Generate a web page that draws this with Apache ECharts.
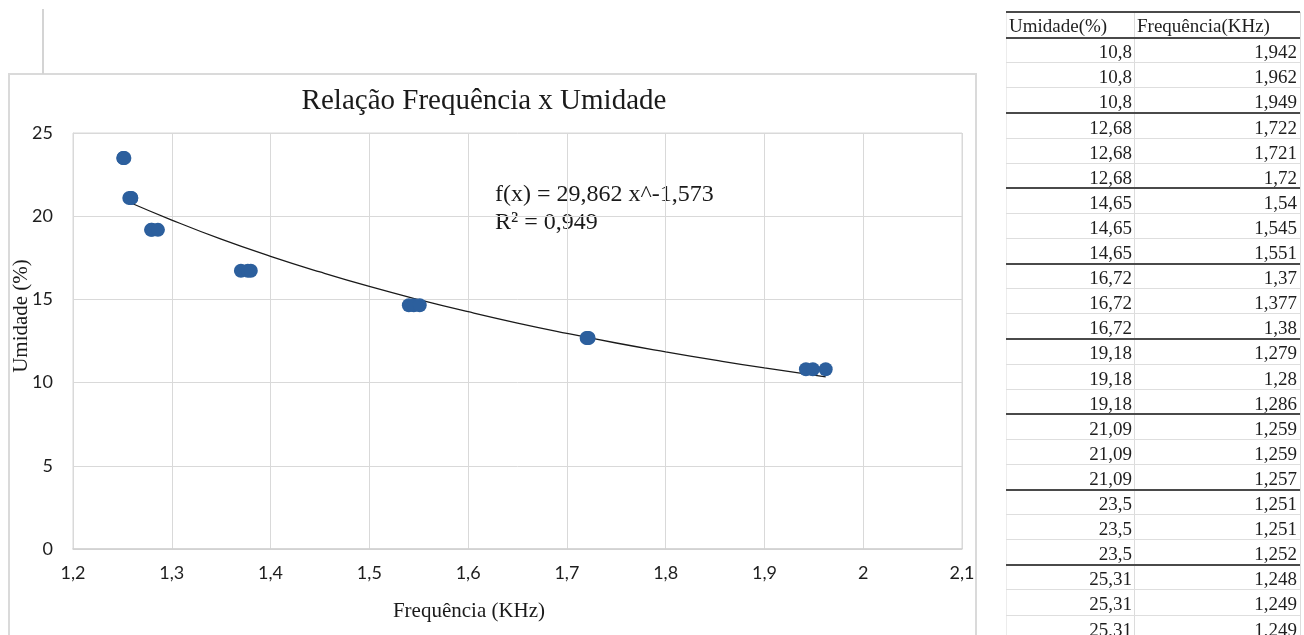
<!DOCTYPE html>
<html>
<head>
<meta charset="utf-8">
<script src="https://cdn.jsdelivr.net/npm/echarts@6/dist/echarts.min.js"></script>
<style>
  html, body { margin: 0; padding: 0; background: #ffffff; }
  #chart { position: absolute; left: 0; top: 0; width: 1304px; height: 635px; }
  #table { position: absolute; left: 0; top: 0; width: 1304px; height: 635px; pointer-events: none;
           font-family: "Liberation Serif", "Times New Roman", serif; font-size: 19px; color: #1e1e1e; }
  .hl { position: absolute; left: 1006px; width: 294px; }
  .cell { position: absolute; height: 25px; line-height: 25px; white-space: nowrap; }
</style>
</head>
<body>
<div id="chart"></div>
<div id="table"></div>
<script>
// ---- data ----
const tableHeaders = ['Umidade(%)', 'Frequência(KHz)'];
const umidade = [10.8, 10.8, 10.8, 12.68, 12.68, 12.68, 14.65, 14.65, 14.65, 16.72, 16.72, 16.72,
                 19.18, 19.18, 19.18, 21.09, 21.09, 21.09, 23.5, 23.5, 23.5, 25.31, 25.31, 25.31];
const frequencia = [1.942, 1.962, 1.949, 1.722, 1.721, 1.72, 1.54, 1.545, 1.551, 1.37, 1.377, 1.38,
                    1.279, 1.28, 1.286, 1.259, 1.259, 1.257, 1.251, 1.251, 1.252, 1.248, 1.249, 1.249];
const chartRowCount = 21; // rows used by the chart's series range
const trendX = [1.251, 1.3, 1.35, 1.4, 1.45, 1.5, 1.55, 1.6, 1.65, 1.7, 1.75, 1.8, 1.85, 1.9, 1.962];
const trendY = [20.99, 19.77, 18.62, 17.59, 16.65, 15.78, 14.99, 14.26, 13.58, 12.96, 12.38, 11.85, 11.35, 10.88, 10.34];
const titleText = 'Relação Frequência x Umidade';
const xAxisName = 'Frequência (KHz)';
const yAxisName = 'Umidade (%)';
const equationLines = ['f(x) = 29,862 x^-1,573', 'R² = 0,949'];

const fmt = v => String(v).replace('.', ',');

// ---- table ----
(function buildTable() {
  const t = document.getElementById('table');
  const headerTop = 12, headerBottom = 37.7, rowH = 25.1;
  const colX = 1134;
  let html = '';
  const line = (y, h, color) => { html += `<div class="hl" style="top:${y - h / 2}px;height:${h}px;background:${color}"></div>`; };
  const lastBottom = headerBottom + rowH * umidade.length;
  html += `<div style="position:absolute;left:${colX}px;top:${headerTop}px;width:1px;height:${lastBottom - headerTop}px;background:#dcdcdc"></div>`;
  html += `<div style="position:absolute;left:1300px;top:${headerTop}px;width:1px;height:${lastBottom - headerTop}px;background:#dcdcdc"></div>`;
  html += `<div style="position:absolute;left:1006px;top:${headerTop}px;width:1px;height:${lastBottom - headerTop}px;background:#ececec"></div>`;
  html += `<div class="cell" style="left:1009px;top:${headerTop + 1}px;">${tableHeaders[0]}</div>`;
  html += `<div class="cell" style="left:1137px;top:${headerTop + 1}px;">${tableHeaders[1]}</div>`;
  for (let i = 0; i < umidade.length; i++) {
    const top = headerBottom + rowH * i;
    html += `<div class="cell" style="left:1006px;width:126px;text-align:right;top:${top + 1.5}px;">${fmt(umidade[i])}</div>`;
    html += `<div class="cell" style="left:1134px;width:163px;text-align:right;top:${top + 1.5}px;">${fmt(frequencia[i])}</div>`;
  }
  for (let i = 1; i <= umidade.length; i++) {
    const y = headerBottom + rowH * i;
    if (i % 3 !== 0) line(y, 1, '#dedede');
  }
  line(headerTop, 2, '#4a4a4a');
  line(headerBottom, 2, '#4a4a4a');
  for (let i = 3; i <= umidade.length; i += 3) line(headerBottom + rowH * i, 2, '#4a4a4a');
  t.innerHTML = html;
})();

// ---- chart ----
const chart = echarts.init(document.getElementById('chart'));
const points = [];
for (let i = 0; i < chartRowCount; i++) points.push([frequencia[i], umidade[i]]);
const trend = trendX.map((x, i) => [x, trendY[i]]);
const serif = '"Liberation Serif", "Times New Roman", serif';

chart.setOption({
  animation: false,
  backgroundColor: '#ffffff',
  grid: { left: 73, top: 133, width: 889, height: 416, show: true, borderColor: '#d9d9d9', borderWidth: 1 },
  xAxis: {
    type: 'value', min: 1.2, max: 2.1, interval: 0.1,
    axisLine: { show: true, lineStyle: { color: '#d0d0d0', width: 1.5 } },
    axisTick: { show: false },
    splitLine: { show: true, lineStyle: { color: '#d9d9d9', width: 1 } },
    axisLabel: { margin: 15, fontFamily: 'Lato', fontSize: 18, color: '#1e1e1e',
                 formatter: v => fmt(Math.round(v * 10) / 10) }
  },
  yAxis: {
    type: 'value', min: 0, max: 25, interval: 5,
    axisLine: { show: true, lineStyle: { color: '#d9d9d9', width: 1 } },
    axisTick: { show: false },
    splitLine: { show: true, lineStyle: { color: '#d9d9d9', width: 1 } },
    axisLabel: { margin: 20, fontFamily: 'Lato', fontSize: 18, color: '#1e1e1e' }
  },
  graphic: [
    { type: 'rect', silent: true, z: -1, shape: { x: 9, y: 74, width: 967, height: 600 },
      style: { fill: 'none', stroke: '#dadada', lineWidth: 2 } },
    { type: 'line', silent: true, shape: { x1: 43, y1: 9, x2: 43, y2: 74 },
      style: { stroke: '#d4d4d4', lineWidth: 2 } },
    { type: 'text', x: 484, y: 101, style: { text: titleText, fontFamily: serif, fontSize: 29,
      fill: '#1a1a1a', align: 'center', verticalAlign: 'middle' } },
    { type: 'text', x: 469, y: 611, style: { text: xAxisName, fontFamily: serif, fontSize: 21,
      fill: '#1a1a1a', align: 'center', verticalAlign: 'middle' } },
    { type: 'text', x: 21, y: 316, rotation: Math.PI / 2, style: { text: yAxisName, fontFamily: serif, fontSize: 21,
      fill: '#1a1a1a', align: 'center', verticalAlign: 'middle' } },
    { type: 'text', x: 495, y: 195, style: { text: equationLines[0], fontFamily: serif, fontSize: 24,
      fill: '#1a1a1a', align: 'left', verticalAlign: 'middle' } },
    { type: 'text', x: 495, y: 223, style: { text: equationLines[1], fontFamily: serif, fontSize: 24,
      fill: '#1a1a1a', align: 'left', verticalAlign: 'middle' } }
  ],
  series: [
    { type: 'scatter', data: points, symbol: 'circle', symbolSize: 14,
      itemStyle: { color: '#2c5f9d', opacity: 1 }, z: 3 },
    { type: 'line', data: trend, smooth: true, showSymbol: false, symbol: 'none',
      lineStyle: { color: '#1a1a1a', width: 1.3 }, z: 2 }
  ]
});
</script>
</body>
</html>
